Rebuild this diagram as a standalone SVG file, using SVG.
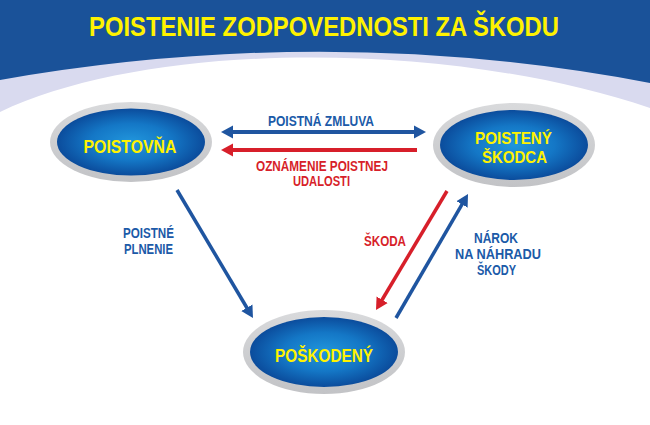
<svg xmlns="http://www.w3.org/2000/svg" width="650" height="425" viewBox="0 0 650 425">
<defs>
<radialGradient id="gBlue" cx="50%" cy="50%" r="50%">
<stop offset="0" stop-color="#2196dc"/>
<stop offset="0.55" stop-color="#1477c6"/>
<stop offset="1" stop-color="#0b4c9c"/>
</radialGradient>
<linearGradient id="gRing" x1="0" y1="0" x2="0" y2="1">
<stop offset="0" stop-color="#d9dadc"/>
<stop offset="1" stop-color="#c2c3c6"/>
</linearGradient>
<marker id="hb" markerUnits="userSpaceOnUse" markerWidth="12" markerHeight="14" viewBox="0 0 12 14" refX="5" refY="7" orient="auto-start-reverse">
<path d="M0,0.5 L12,7 L0,13.5 z" fill="#1f55a0"/>
</marker>
<marker id="hr" markerUnits="userSpaceOnUse" markerWidth="12" markerHeight="14" viewBox="0 0 12 14" refX="5" refY="7" orient="auto-start-reverse">
<path d="M0,0.5 L12,7 L0,13.5 z" fill="#d71f2a"/>
</marker>
</defs>
<style>
.title{font-family:"Liberation Sans",Arial,sans-serif;font-weight:bold;font-size:28px;fill:#fff200}
.node{font-family:"Liberation Sans",Arial,sans-serif;font-weight:bold;font-size:18px;fill:#fff200;text-anchor:middle}
.node2{font-family:"Liberation Sans",Arial,sans-serif;font-weight:bold;font-size:16.5px;fill:#fff200;text-anchor:middle}
.lb{font-family:"Liberation Sans",Arial,sans-serif;font-weight:bold;font-size:14px;fill:#1b5aa8;text-anchor:middle}
.lr{font-family:"Liberation Sans",Arial,sans-serif;font-weight:bold;font-size:14px;fill:#d71f2a;text-anchor:middle}
.ring{fill:url(#gRing)}
.core{fill:url(#gBlue)}
.ab{stroke:#1f55a0;fill:none}
.ar{stroke:#d71f2a;fill:none}
</style>
<rect width="650" height="425" fill="#ffffff"/>
<g id="header">
<path d="M0,0 H650 V108 C450,40 150,40 0,112 Z" fill="#d9daef"/>
<path d="M0,0 H650 V83 Q330,22 0,80 Z" fill="#1a5299"/>
<text class="title" x="89" y="36" textLength="470" lengthAdjust="spacingAndGlyphs">POISTENIE ZODPOVEDNOSTI ZA ŠKODU</text>
</g>
<g id="connectors">
<line class="ab" x1="228" y1="132" x2="419" y2="132" stroke-width="4" marker-start="url(#hb)" marker-end="url(#hb)"/>
<line class="ar" x1="417" y1="150" x2="228" y2="150" stroke-width="4" marker-end="url(#hr)"/>
<line class="ab" x1="177" y1="190" x2="249.4" y2="312" stroke-width="3.5" marker-end="url(#hb)"/>
<line class="ar" x1="447" y1="191" x2="379.6" y2="304" stroke-width="3.5" marker-end="url(#hr)"/>
<line class="ab" x1="396" y1="318" x2="464.5" y2="200.1" stroke-width="3.5" marker-end="url(#hb)"/>
<text class="lb" x="321" y="126" textLength="106" lengthAdjust="spacingAndGlyphs">POISTNÁ ZMLUVA</text>
<text class="lr" x="322" y="171" textLength="132" lengthAdjust="spacingAndGlyphs">OZNÁMENIE POISTNEJ</text>
<text class="lr" x="321.5" y="186" textLength="57" lengthAdjust="spacingAndGlyphs">UDALOSTI</text>
<text class="lb" x="148.5" y="238" textLength="51" lengthAdjust="spacingAndGlyphs">POISTNÉ</text>
<text class="lb" x="148.5" y="254" textLength="49" lengthAdjust="spacingAndGlyphs">PLNENIE</text>
<text class="lr" x="385" y="246" textLength="42" lengthAdjust="spacingAndGlyphs">ŠKODA</text>
<text class="lb" x="496" y="243" textLength="44" lengthAdjust="spacingAndGlyphs">NÁROK</text>
<text class="lb" x="498" y="259" textLength="86" lengthAdjust="spacingAndGlyphs">NA NÁHRADU</text>
<text class="lb" x="496.5" y="275" textLength="39" lengthAdjust="spacingAndGlyphs">ŠKODY</text>
</g>
<g id="poistovna">
<ellipse class="ring" cx="131" cy="142" rx="81" ry="40"/>
<ellipse class="core" cx="131" cy="142" rx="74" ry="33.5"/>
<text class="node" x="130" y="153" textLength="93" lengthAdjust="spacingAndGlyphs">POISTOVŇA</text>
</g>
<g id="poisteny-skodca">
<ellipse class="ring" cx="514" cy="145" rx="81" ry="42"/>
<ellipse class="core" cx="514" cy="145" rx="74" ry="35"/>
<text class="node2" x="513.5" y="144" textLength="77" lengthAdjust="spacingAndGlyphs">POISTENÝ</text>
<text class="node2" x="514.5" y="163" textLength="65" lengthAdjust="spacingAndGlyphs">ŠKODCA</text>
</g>
<g id="poskodeny">
<ellipse class="ring" cx="324" cy="352" rx="81" ry="42"/>
<ellipse class="core" cx="324" cy="352" rx="74" ry="35"/>
<text class="node" x="324" y="362" textLength="98" lengthAdjust="spacingAndGlyphs">POŠKODENÝ</text>
</g>
</svg>
